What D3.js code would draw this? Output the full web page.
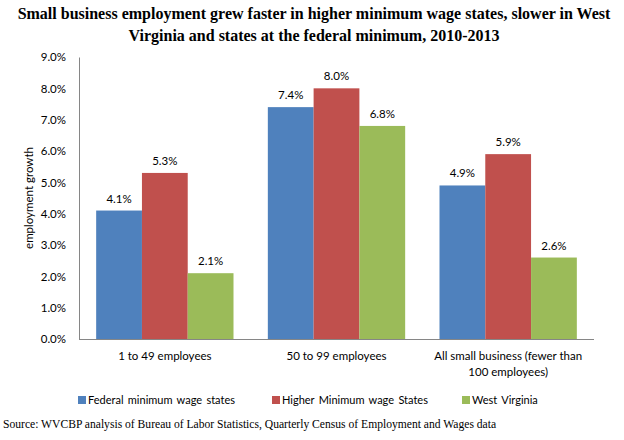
<!DOCTYPE html>
<html lang="en">
<head>
    <meta charset="UTF-8">
    <title>Small business employment growth</title>
    <script src="https://d3js.org/d3.v7.min.js"></script>
    <style>
        body { margin: 0; background: #fff; }
        svg { display: block; }
        .title { font-family: 'Liberation Serif', 'Times New Roman', serif; font-weight: bold; font-size: 16px; fill: #000; }
        .lbl { font-family: 'Lato', 'Open Sans', sans-serif; font-size: 11.5px; fill: #000; }
        .legend { font-family: 'Lato', 'Open Sans', sans-serif; font-size: 11px; fill: #000; word-spacing: 1.5px; }
        .source { font-family: 'Liberation Serif', 'Times New Roman', serif; font-size: 11.6px; fill: #000; }
    </style>
</head>
<body>
<svg id="chart" width="624" height="440"></svg>
<script>
    const categories = [["1 to 49 employees"], ["50 to 99 employees"], ["All small business (fewer than", "100 employees)"]];
    const seriesNames = ["Federal minimum wage states", "Higher Minimum wage States", "West Virginia"];
    const federal = [4.1, 7.4, 4.9];
    const higher = [5.3, 8.0, 5.9];
    const westVirginia = [2.1, 6.8, 2.6];
    const yTicks = [0, 1, 2, 3, 4, 5, 6, 7, 8, 9];
    const colors = ["#4F81BD", "#C0504D", "#9BBB59"];

    const series = [federal, higher, westVirginia];

    const svg = d3.select("#chart");
    const plotLeft = 79, plotRight = 594, plotTop = 57, plotBottom = 339;

    // title
    svg.append("text").attr("class", "title").attr("x", 314).attr("y", 19)
        .attr("text-anchor", "middle")
        .text("Small business employment grew faster in higher minimum wage states, slower in West");
    svg.append("text").attr("class", "title").attr("x", 314).attr("y", 41)
        .attr("text-anchor", "middle")
        .text("Virginia and states at the federal minimum, 2010-2013");

    const x0 = d3.scaleBand().domain(d3.range(categories.length))
        .range([plotLeft, plotRight]).paddingInner(0.2).paddingOuter(0.1);
    const x1 = d3.scaleBand().domain(d3.range(series.length)).range([0, x0.bandwidth()]);
    const y = d3.scaleLinear().domain([0, 9]).range([plotBottom, plotTop]);

    // y axis
    const yAxis = svg.append("g").attr("transform", `translate(${plotLeft},0)`)
        .call(d3.axisLeft(y).tickValues(yTicks).tickSize(0).tickPadding(13)
            .tickFormat(d => d.toFixed(1) + "%"));
    yAxis.select(".domain").attr("stroke", "#868686");
    yAxis.selectAll("text").attr("class", "lbl").attr("font-family", null).attr("font-size", null);

    svg.append("text").attr("class", "lbl")
        .attr("transform", "translate(33,198) rotate(-90)")
        .attr("text-anchor", "middle")
        .text("employment growth");

    // bars
    series.forEach((vals, s) => {
        const g = svg.append("g");
        g.selectAll("rect").data(vals).join("rect")
            .attr("x", (d, i) => x0(i) + x1(s))
            .attr("y", d => y(d))
            .attr("width", x1.bandwidth())
            .attr("height", d => y(0) - y(d))
            .attr("fill", colors[s]);
        g.selectAll("text").data(vals).join("text")
            .attr("class", "lbl")
            .attr("x", (d, i) => x0(i) + x1(s) + x1.bandwidth() / 2)
            .attr("y", d => y(d) - 8)
            .attr("text-anchor", "middle")
            .text(d => d.toFixed(1) + "%");
    });

    // x axis line
    svg.append("line").attr("x1", plotLeft).attr("x2", plotRight)
        .attr("y1", plotBottom + 0.5).attr("y2", plotBottom + 0.5)
        .attr("stroke", "#868686");

    // category labels
    categories.forEach((lines, i) => {
        const t = svg.append("text").attr("class", "lbl").attr("text-anchor", "middle");
        lines.forEach((ln, k) => {
            t.append("tspan").attr("x", x0(i) + x0.bandwidth() / 2).attr("y", 360 + k * 16).text(ln);
        });
    });

    // legend
    const legendX = [78, 272, 462];
    seriesNames.forEach((name, s) => {
        svg.append("rect").attr("x", legendX[s]).attr("y", 396).attr("width", 8).attr("height", 8).attr("fill", colors[s]);
        svg.append("text").attr("class", "legend").attr("x", legendX[s] + 10).attr("y", 404).text(name);
    });

    svg.append("text").attr("class", "source").attr("x", 3).attr("y", 428)
        .text("Source: WVCBP analysis of Bureau of Labor Statistics, Quarterly Census of Employment and Wages data");
</script>
</body>
</html>
